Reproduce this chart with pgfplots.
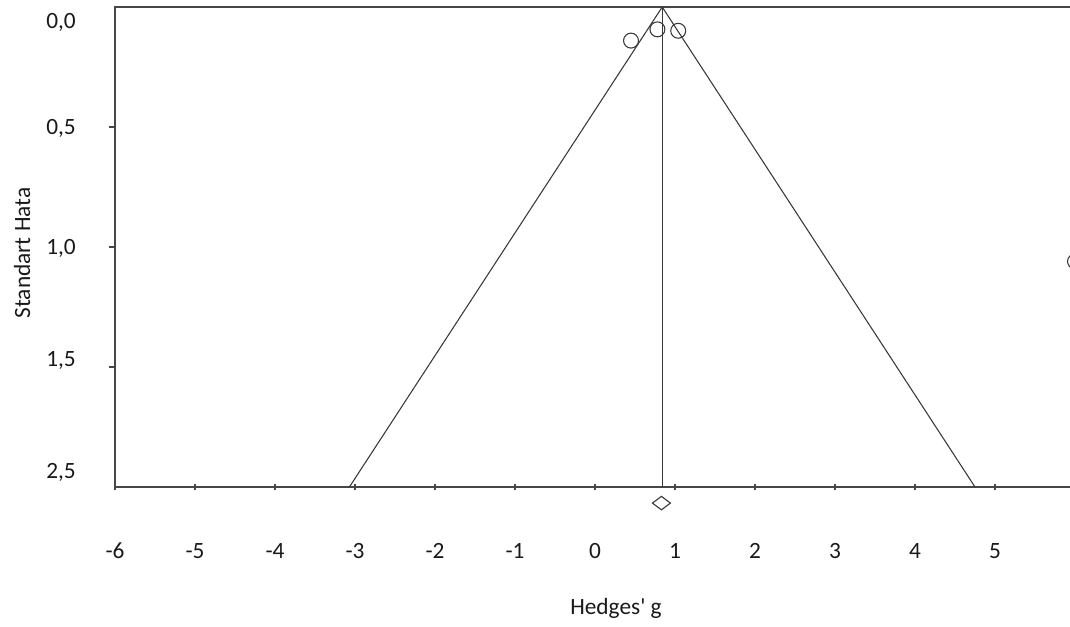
\documentclass[border=0pt]{standalone}
\usepackage{fontspec}
\setmainfont{Carlito}
\usepackage{pgfplots}
\pgfplotsset{compat=1.18}
\begin{document}
\begin{tikzpicture}[trim left=-86.25pt, trim right=716.25pt]
\clip (-86.25pt,-104.25pt) rectangle (716.25pt,365.25pt);
\begin{axis}[
  at={(0,0)}, anchor=south west,
  scale only axis, width=720pt, height=360pt,
  xmin=-6, xmax=6, ymin=0, ymax=2, y dir=reverse,
  clip=false,
  axis line style={black!72, line width=1.1pt},
  every tick/.style={black!72, line width=0.9pt},
  major tick length=4.5pt,
  xtick={-6,...,6},
  xticklabels={-6,-5,-4,-3,-2,-1,0,1,2,3,4,5,6},
  xtick pos=bottom, xtick align=center,
  xticklabel style={anchor=center, inner sep=0pt, yshift=-45.75pt, font=\fontsize{17.5}{21}\selectfont, text=black!90},
  ytick={0.5,1,1.5},
  yticklabels={},
  ytick pos=left, ytick align=outside,
  yticklabel style={anchor=east, inner sep=0pt, xshift=-29.25pt, font=\fontsize{17.5}{21}\selectfont, text=black!90},
  extra y ticks={0.0625,0.504,1.004,1.471,1.9375},
  extra y tick labels={{0,0},{0,5},{1,0},{1,5},{2,5}},
  extra y tick style={major tick length=0pt, tick style={draw=none}},
  every axis x label/.style={at={(axis cs:0.2625,2)}, anchor=center, yshift=-90.75pt, font=\fontsize{17.5}{21}\selectfont, text=black!90},
  every axis y label/.style={at={(axis cs:-6,1.025)}, rotate=90, anchor=center, yshift=69.75pt, font=\fontsize{17.5}{21}\selectfont, text=black!90},
  xlabel={Hedges\textquotesingle\ g},
  ylabel={Standart Hata},
]
% funnel
\addplot[black!78, line width=0.8pt] coordinates {(-3.07,2) (0.84,0) (4.75,2)};
\addplot[black!78, line width=0.8pt] coordinates {(0.84,0) (0.84,2)};
% studies
\addplot[only marks, mark=o, mark size=5.6pt, mark options={black!78, line width=0.8pt}] coordinates {(0.45,0.14) (0.78,0.093) (1.04,0.099) (6.0,1.06)};
% summary diamond
\addplot[only marks, mark=diamond, mark size=6.75pt, mark options={rotate=90, black!78, line width=0.8pt}] coordinates {(0.83,2.067)};
\end{axis}
\end{tikzpicture}
\end{document}
